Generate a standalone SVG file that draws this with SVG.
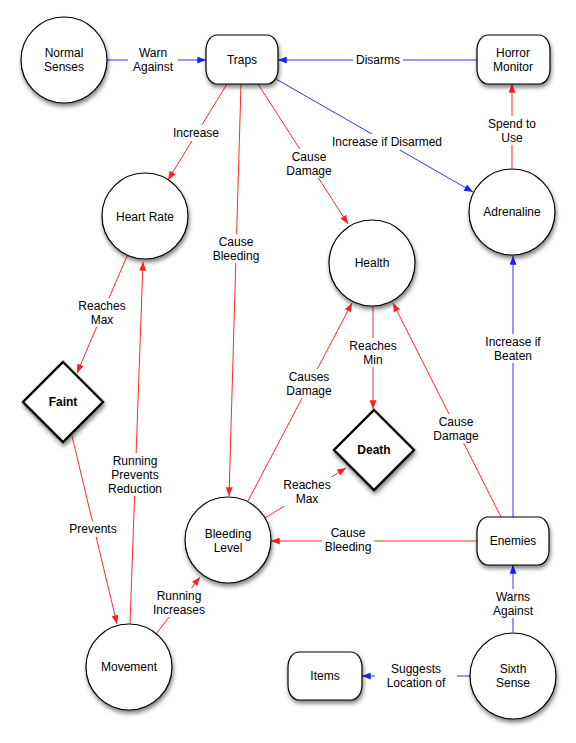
<svg xmlns="http://www.w3.org/2000/svg" width="576" height="743" viewBox="0 0 576 743">
<defs>
<style>
text{font-family:"Liberation Sans",Arial,sans-serif;font-size:12px;fill:#000;text-anchor:middle}
.b{font-weight:bold}
.n{fill:#fff;stroke:#000;stroke-width:1.2}
.d{fill:#fff;stroke:#000;stroke-width:2.4}
.r{stroke:#ff2a2a;stroke-width:1;fill:none}
.u{stroke:#3030ff;stroke-width:1;fill:none}
.lb{fill:#fff}
</style>
<filter id="sh" x="-30%" y="-30%" width="160%" height="170%">
<feDropShadow dx="1" dy="3" stdDeviation="2" flood-color="#000" flood-opacity="0.5"/>
</filter>
<marker id="ar" viewBox="0 0 10 8" refX="10" refY="4" markerWidth="9" markerHeight="7" markerUnits="userSpaceOnUse" orient="auto"><path d="M0,0 L10,4 L0,8 z" fill="#ff2020"/></marker>
<marker id="ab" viewBox="0 0 10 8" refX="10" refY="4" markerWidth="9" markerHeight="7" markerUnits="userSpaceOnUse" orient="auto"><path d="M0,0 L10,4 L0,8 z" fill="#2020ff"/></marker>
</defs>
<rect width="576" height="743" fill="#fff"/>
<g id="connectors">
<line class="u" x1="107" y1="60" x2="206" y2="60" marker-end="url(#ab)"/>
<line class="u" x1="477" y1="60" x2="278" y2="60" marker-end="url(#ab)"/>
<line class="u" x1="276" y1="79" x2="473" y2="192" marker-end="url(#ab)"/>
<line class="r" x1="512" y1="169" x2="512" y2="84" marker-end="url(#ar)"/>
<line class="r" x1="227" y1="84" x2="168" y2="180" marker-end="url(#ar)"/>
<line class="r" x1="241" y1="84" x2="229" y2="496" marker-end="url(#ar)"/>
<line class="r" x1="258" y1="84" x2="348" y2="224" marker-end="url(#ar)"/>
<line class="r" x1="127" y1="256" x2="77" y2="373" marker-end="url(#ar)"/>
<line class="r" x1="373" y1="306" x2="373" y2="409" marker-end="url(#ar)"/>
<line class="u" x1="513" y1="517" x2="513" y2="256" marker-end="url(#ab)"/>
<line class="r" x1="248" y1="501" x2="352" y2="303" marker-end="url(#ar)"/>
<line class="r" x1="501" y1="517" x2="393" y2="303" marker-end="url(#ar)"/>
<line class="r" x1="130" y1="624" x2="143" y2="262" marker-end="url(#ar)"/>
<line class="r" x1="72" y1="436" x2="117" y2="624" marker-end="url(#ar)"/>
<line class="r" x1="265" y1="518" x2="346" y2="468" marker-end="url(#ar)"/>
<line class="r" x1="477" y1="541" x2="271" y2="541" marker-end="url(#ar)"/>
<line class="r" x1="156" y1="634" x2="200" y2="577" marker-end="url(#ar)"/>
<line class="u" x1="513" y1="632" x2="513" y2="565" marker-end="url(#ab)"/>
<line class="u" x1="470" y1="676" x2="362" y2="676" marker-end="url(#ab)"/>
<g id="labels">
<rect class="lb" x="128" y="45" width="50" height="29"/><text x="153" y="57">Warn</text><text x="153" y="71">Against</text>
<rect class="lb" x="353" y="52" width="50" height="16"/><text x="378" y="64">Disarms</text>
<rect class="lb" x="329" y="134" width="116" height="16"/><text x="387" y="146">Increase if Disarmed</text>
<rect class="lb" x="486" y="116" width="52" height="29"/><text x="512" y="128">Spend to</text><text x="512" y="142">Use</text>
<rect class="lb" x="170" y="125" width="52" height="16"/><text x="196" y="137">Increase</text>
<rect class="lb" x="211" y="234" width="50" height="29"/><text x="236" y="246">Cause</text><text x="236" y="260">Bleeding</text>
<rect class="lb" x="284" y="149" width="50" height="29"/><text x="309" y="161">Cause</text><text x="309" y="175">Damage</text>
<rect class="lb" x="76" y="298" width="52" height="29"/><text x="102" y="310">Reaches</text><text x="102" y="324">Max</text>
<rect class="lb" x="347" y="338" width="52" height="29"/><text x="373" y="350">Reaches</text><text x="373" y="364">Min</text>
<rect class="lb" x="482" y="334" width="62" height="29"/><text x="513" y="346">Increase if</text><text x="513" y="360">Beaten</text>
<rect class="lb" x="284" y="369" width="50" height="29"/><text x="309" y="381">Causes</text><text x="309" y="395">Damage</text>
<rect class="lb" x="431" y="414" width="50" height="29"/><text x="456" y="426">Cause</text><text x="456" y="440">Damage</text>
<rect class="lb" x="107" y="453" width="56" height="43"/><text x="135" y="465">Running</text><text x="135" y="479">Prevents</text><text x="135" y="493">Reduction</text>
<rect class="lb" x="67" y="521" width="52" height="16"/><text x="93" y="533">Prevents</text>
<rect class="lb" x="281" y="477" width="52" height="29"/><text x="307" y="489">Reaches</text><text x="307" y="503">Max</text>
<rect class="lb" x="322" y="525" width="52" height="29"/><text x="348" y="537">Cause</text><text x="348" y="551">Bleeding</text>
<rect class="lb" x="151" y="588" width="58" height="29"/><text x="179" y="600">Running</text><text x="179" y="614">Increases</text>
<rect class="lb" x="489" y="589" width="48" height="29"/><text x="513" y="601">Warns</text><text x="513" y="615">Against</text>
<rect class="lb" x="375" y="661" width="82" height="29"/><text x="416" y="673">Suggests</text><text x="416" y="687">Location of</text>
</g>
</g>
<g id="normal-senses"><circle class="n" cx="64" cy="60" r="43" filter="url(#sh)"/><text x="64" y="57">Normal</text><text x="64" y="71">Senses</text></g>
<g id="traps"><rect class="n" x="206" y="35" width="72" height="49" rx="11" ry="15" filter="url(#sh)"/><text x="242" y="64">Traps</text></g>
<g id="horror-monitor"><rect class="n" x="477" y="35" width="73" height="49" rx="11" ry="15" filter="url(#sh)"/><text x="513" y="57">Horror</text><text x="513" y="71">Monitor</text></g>
<g id="heart-rate"><circle class="n" cx="145" cy="216" r="43" filter="url(#sh)"/><text x="145" y="221">Heart Rate</text></g>
<g id="adrenaline"><circle class="n" cx="512" cy="212" r="43" filter="url(#sh)"/><text x="512" y="216">Adrenaline</text></g>
<g id="health"><circle class="n" cx="372" cy="263" r="43" filter="url(#sh)"/><text x="372" y="267">Health</text></g>
<g id="faint"><polygon class="d" points="63,362 103,402 63,442 23,402" filter="url(#sh)"/><text class="b" x="63" y="406">Faint</text></g>
<g id="death"><polygon class="d" points="374,410 414,450 374,490 334,450" filter="url(#sh)"/><text class="b" x="374" y="454">Death</text></g>
<g id="bleeding-level"><circle class="n" cx="228" cy="540" r="43" filter="url(#sh)"/><text x="228" y="538">Bleeding</text><text x="228" y="552">Level</text></g>
<g id="enemies"><rect class="n" x="477" y="517" width="72" height="48" rx="11" ry="15" filter="url(#sh)"/><text x="513" y="545">Enemies</text></g>
<g id="movement"><circle class="n" cx="129" cy="667" r="43" filter="url(#sh)"/><text x="129" y="671">Movement</text></g>
<g id="items"><rect class="n" x="288" y="652" width="74" height="48" rx="11" ry="15" filter="url(#sh)"/><text x="325" y="680">Items</text></g>
<g id="sixth-sense"><circle class="n" cx="513" cy="676" r="43" filter="url(#sh)"/><text x="513" y="673">Sixth</text><text x="513" y="687">Sense</text></g>
</svg>
